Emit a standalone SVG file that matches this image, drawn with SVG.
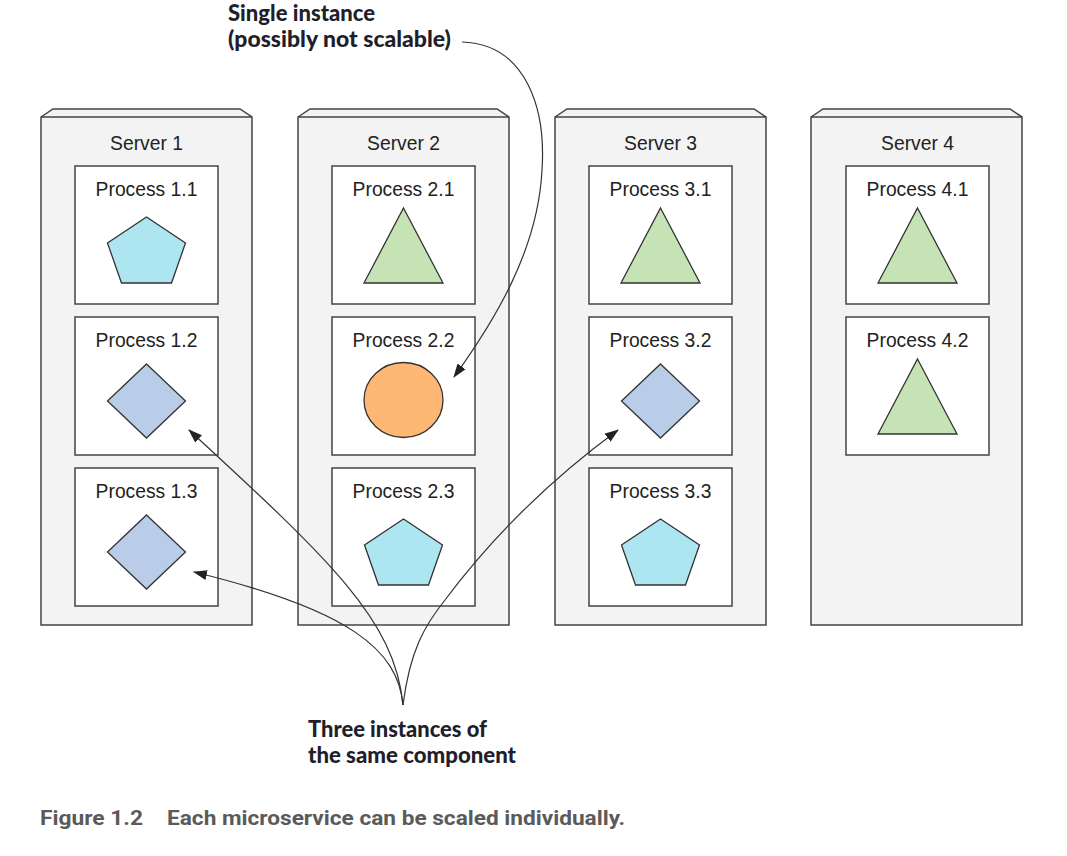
<svg xmlns="http://www.w3.org/2000/svg" xmlns:xlink="http://www.w3.org/1999/xlink" width="1067" height="856" viewBox="0 0 1067 856">
<style>
.srv{fill:#f3f3f3;stroke:#444;stroke-width:1.5}
.proc{fill:#fff;stroke:#444;stroke-width:1.5}
.lbl{font-family:"Liberation Sans",Arial,sans-serif;font-size:19.3px;fill:#222;text-anchor:middle}
.note{font-family:Lato,"Open Sans",sans-serif;font-weight:900;font-size:22px;fill:#1f1f2b}
.cap{font-family:Roboto,"Liberation Sans",sans-serif;font-weight:700;font-size:20px;fill:#5a5a5a}
.pent{fill:#ade6f1;stroke:#333;stroke-width:1.3}
.tri{fill:#c6e3b6;stroke:#333;stroke-width:1.3}
.dia{fill:#b9cce8;stroke:#333;stroke-width:1.3}
.circ{fill:#ffb874;stroke:#333;stroke-width:1.3}
.con{fill:none;stroke:#333;stroke-width:1.2}
</style>
<defs>
<marker id="ah" markerUnits="userSpaceOnUse" markerWidth="14" markerHeight="10" refX="13" refY="5" orient="auto">
<path d="M0,0 L14,5 L0,10 Z" fill="#222"/>
</marker>
<polygon id="pent" class="pent" points="0,51 39,77 25,117 -25,117 -39,77"/>
<polygon id="tri" class="tri" points="0,42 39.5,117 -39.5,117"/>
<polygon id="dia" class="dia" points="0,47 39,84 0,121 -39,84"/>
<ellipse id="circ" class="circ" cx="0" cy="83" rx="39.5" ry="37.5"/>
</defs>
<rect width="1067" height="856" fill="#fff"/>

<g id="server1">
<path class="srv" d="M41,117 L53,109 L240,109 L252,117 L252,625 L41,625 Z M41,117 H252"/>
<text class="lbl" x="146.5" y="150">Server 1</text>
<g id="p11"><rect class="proc" x="75" y="166" width="143" height="138"/><text class="lbl" x="146.5" y="196">Process 1.1</text><use xlink:href="#pent" x="146.5" y="166"/></g>
<g id="p12"><rect class="proc" x="75" y="317" width="143" height="138"/><text class="lbl" x="146.5" y="347">Process 1.2</text><use xlink:href="#dia" x="146.5" y="317"/></g>
<g id="p13"><rect class="proc" x="75" y="468" width="143" height="138"/><text class="lbl" x="146.5" y="498">Process 1.3</text><use xlink:href="#dia" x="146.5" y="468"/></g>
</g>

<g id="server2">
<path class="srv" d="M298,117 L310,109 L497,109 L509,117 L509,625 L298,625 Z M298,117 H509"/>
<text class="lbl" x="403.5" y="150">Server 2</text>
<g id="p21"><rect class="proc" x="332" y="166" width="143" height="138"/><text class="lbl" x="403.5" y="196">Process 2.1</text><use xlink:href="#tri" x="403.5" y="166"/></g>
<g id="p22"><rect class="proc" x="332" y="317" width="143" height="138"/><text class="lbl" x="403.5" y="347">Process 2.2</text><use xlink:href="#circ" x="403.5" y="317"/></g>
<g id="p23"><rect class="proc" x="332" y="468" width="143" height="138"/><text class="lbl" x="403.5" y="498">Process 2.3</text><use xlink:href="#pent" x="403.5" y="468"/></g>
</g>

<g id="server3">
<path class="srv" d="M555,117 L567,109 L754,109 L766,117 L766,625 L555,625 Z M555,117 H766"/>
<text class="lbl" x="660.5" y="150">Server 3</text>
<g id="p31"><rect class="proc" x="589" y="166" width="143" height="138"/><text class="lbl" x="660.5" y="196">Process 3.1</text><use xlink:href="#tri" x="660.5" y="166"/></g>
<g id="p32"><rect class="proc" x="589" y="317" width="143" height="138"/><text class="lbl" x="660.5" y="347">Process 3.2</text><use xlink:href="#dia" x="660.5" y="317"/></g>
<g id="p33"><rect class="proc" x="589" y="468" width="143" height="138"/><text class="lbl" x="660.5" y="498">Process 3.3</text><use xlink:href="#pent" x="660.5" y="468"/></g>
</g>

<g id="server4">
<path class="srv" d="M811,117 L823,109 L1010,109 L1022,117 L1022,625 L811,625 Z M811,117 H1022"/>
<text class="lbl" x="917.5" y="150">Server 4</text>
<g id="p41"><rect class="proc" x="846" y="166" width="143" height="138"/><text class="lbl" x="917.5" y="196">Process 4.1</text><use xlink:href="#tri" x="917.5" y="166"/></g>
<g id="p42"><rect class="proc" x="846" y="317" width="143" height="138"/><text class="lbl" x="917.5" y="347">Process 4.2</text><use xlink:href="#tri" x="917.5" y="317"/></g>
</g>

<g id="connectors">
<path class="con" marker-end="url(#ah)" d="M462,42 C527,44 546,110 542,170 C538,250 495,320 454,377"/>
<path class="con" marker-end="url(#ah)" d="M403,705 C395,620 330,560 189,430"/>
<path class="con" marker-end="url(#ah)" d="M403,705 C398,650 350,610 194,572"/>
<path class="con" marker-end="url(#ah)" d="M403,705 C410,650 425,625 445,600 C490,540 550,480 618,430"/>
</g>

<g id="note-single">
<text class="note" x="228" y="21" textLength="147" lengthAdjust="spacingAndGlyphs">Single instance</text>
<text class="note" x="228" y="47" textLength="223" lengthAdjust="spacingAndGlyphs">(possibly not scalable)</text>
</g>
<g id="note-three">
<text class="note" x="308" y="737" textLength="179" lengthAdjust="spacingAndGlyphs">Three instances of</text>
<text class="note" x="308" y="763" textLength="208" lengthAdjust="spacingAndGlyphs">the same component</text>
</g>
<g id="caption">
<text class="cap" x="40" y="825" textLength="103" lengthAdjust="spacingAndGlyphs">Figure 1.2</text>
<text class="cap" x="167" y="825" textLength="458" lengthAdjust="spacingAndGlyphs">Each microservice can be scaled individually.</text>
</g>
</svg>
